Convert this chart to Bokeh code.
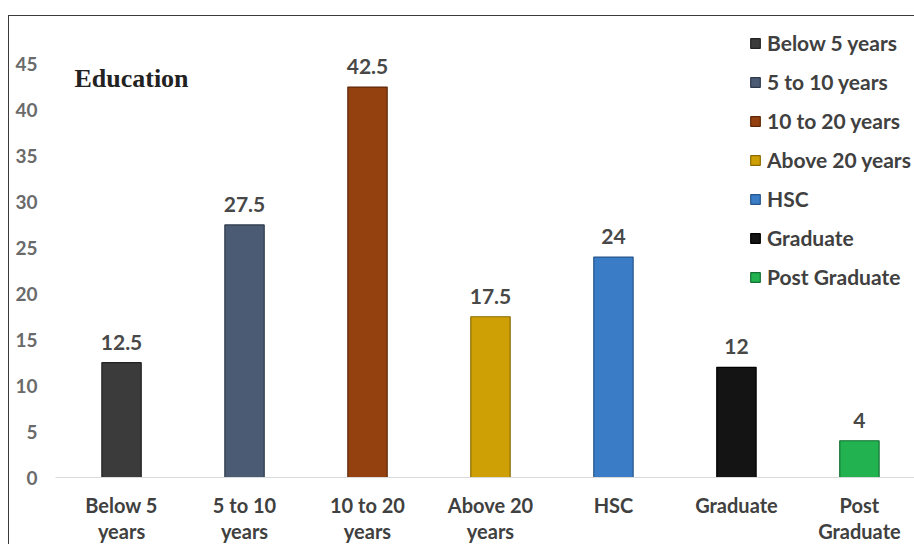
from bokeh.plotting import figure
from bokeh.models import ColumnDataSource, Range1d, FixedTicker, Legend, LegendItem, Label
from bokeh.core.properties import value
from bokeh.embed import file_html
from bokeh.resources import INLINE

categories = ["Below 5 years", "5 to 10 years", "10 to 20 years", "Above 20 years",
              "HSC", "Graduate", "Post Graduate"]
tick_labels = ["Below 5\nyears", "5 to 10\nyears", "10 to 20\nyears", "Above 20\nyears",
               "HSC", "Graduate", "Post\nGraduate"]
values = [12.5, 27.5, 42.5, 17.5, 24, 12, 4]
value_labels = ["12.5", "27.5", "42.5", "17.5", "24", "12", "4"]
colors = ["#3b3b3b", "#4a5b73", "#94400f", "#cfa006", "#3a7dc6", "#141414", "#22b24f"]
edges = ["#222222", "#2e3a4c", "#5e2808", "#8a6a00", "#27568a", "#000000", "#137032"]
y_ticks = [0, 5, 10, 15, 20, 25, 30, 35, 40, 45]

xs = list(range(len(categories)))
src = ColumnDataSource(dict(x=xs, top=values, cat=categories, color=colors,
                            edge=edges, lab=value_labels))

p = figure(width=906, height=529, output_backend="svg", toolbar_location=None,
           x_range=Range1d(-0.537, 6.456), y_range=Range1d(0, 49.1),
           min_border_left=46, min_border_right=0, min_border_top=10, min_border_bottom=64)
p.styles = {"border-left": "1.5px solid #3a3a3a", "border-top": "1.5px solid #3a3a3a"}
p.margin = (15, 0, 0, 8)
p.outline_line_color = None
p.xgrid.visible = False
p.ygrid.visible = False
p.background_fill_color = "white"
p.border_fill_color = "white"

r = p.vbar(x="x", top="top", width=0.32, bottom=0, source=src,
           fill_color="color", line_color="edge", line_width=1.2)

p.text(x="x", y="top", text="lab", source=src, text_align="center",
       text_baseline="bottom", y_offset=-13, text_font=value("Lato"),
       text_font_style="bold", text_font_size="21px", text_color="#484848")

# y axis
p.yaxis.ticker = FixedTicker(ticks=y_ticks)
p.yaxis.axis_line_color = None
p.yaxis.major_tick_line_color = None
p.yaxis.minor_tick_line_color = None
p.yaxis.major_label_text_font = "Lato"
p.yaxis.major_label_text_font_style = "bold"
p.yaxis.major_label_text_font_size = "19px"
p.yaxis.major_label_text_color = "#6a6a6a"
p.yaxis.major_label_standoff = 12

# x axis
p.xaxis.ticker = FixedTicker(ticks=xs)
p.xaxis.major_label_overrides = {i: t for i, t in zip(xs, tick_labels)}
p.xaxis.axis_line_color = "#d9d9d9"
p.xaxis.axis_line_width = 1
p.xaxis.major_tick_line_color = None
p.xaxis.minor_tick_line_color = None
p.xaxis.major_label_text_font = "Lato"
p.xaxis.major_label_text_font_style = "bold"
p.xaxis.major_label_text_font_size = "20px"
p.xaxis.major_label_text_color = "#404040"
p.xaxis.major_label_text_line_height = 1.1
p.xaxis.major_label_standoff = 9

# title inside plot
p.add_layout(Label(x=-0.383, y=43.4, text="Education", text_font="Liberation Serif",
                   text_font_style="bold", text_font_size="26px", text_color="#222222",
                   text_baseline="middle"))

items = [LegendItem(label=c, renderers=[r], index=i) for i, c in enumerate(categories)]
legend = Legend(items=items, location=(694, 188), padding=0, margin=0,
                border_line_color=None, background_fill_alpha=0,
                glyph_width=12, glyph_height=12, label_standoff=6, spacing=14,
                label_text_font="Lato", label_text_font_style="bold",
                label_text_font_size="21px", label_text_color="#404040")
p.add_layout(legend)

open("out.html", "w").write(file_html(p, INLINE))
